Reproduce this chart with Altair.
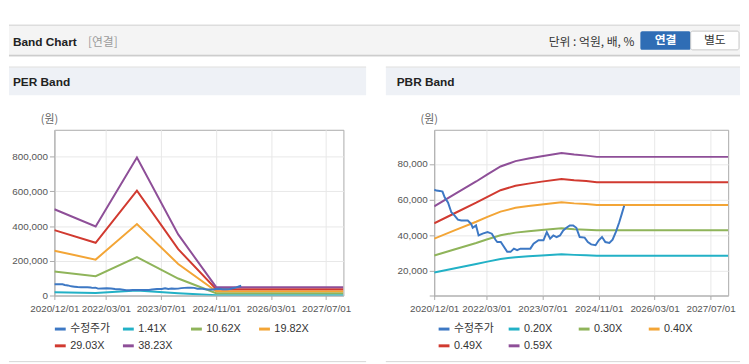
import altair as alt
import pandas as pd

# ---------------- data ----------------
per_series = ["수정주가", "1.41X", "10.62X", "19.82X", "29.03X", "38.23X"]
pbr_series = ["수정주가", "0.20X", "0.30X", "0.40X", "0.49X", "0.59X"]
series_colors = ["#3d78c4", "#22b1c6", "#8fb45a", "#f3a536", "#d13a30", "#8e4f98"]

price_dates = ["2020-12-01", "2020-12-20", "2021-01-19", "2021-02-11", "2021-03-03", "2021-03-31",
               "2021-04-29", "2021-05-28", "2021-06-25", "2021-07-24", "2021-09-19", "2021-10-18",
               "2021-11-01", "2021-11-30", "2021-12-22", "2022-01-26", "2022-03-10", "2022-04-16",
               "2022-05-21", "2022-06-03", "2022-07-03", "2022-08-28", "2022-09-26", "2022-10-25",
               "2022-11-22", "2022-12-21", "2023-02-02", "2023-03-17", "2023-04-14", "2023-05-27",
               "2023-07-09", "2023-08-07", "2023-09-05", "2023-10-03", "2023-10-31", "2023-11-30",
               "2023-12-28", "2024-01-25", "2024-02-23", "2024-03-23", "2024-04-20", "2024-05-19",
               "2024-07-01", "2024-07-29", "2024-08-27", "2024-10-04", "2024-11-01", "2024-11-29",
               "2024-12-28", "2025-02-01", "2025-03-01", "2025-03-29", "2025-04-28", "2025-05-20",
               "2025-06-10"]
price_values = [65500, 65000, 64800, 64400, 61100, 58300,
                52800, 50900, 48700, 48200, 48200, 46300,
                44100, 45400, 39800, 40800, 41700, 40800,
                37100, 36100, 36100, 30600, 30600, 32400,
                31500, 32400, 32400, 32400, 35200, 37100,
                37100, 41700, 38000, 39800, 38900, 39800,
                42600, 44100, 45400, 45400, 44100, 38900,
                38600, 36100, 34800, 34300, 37100, 38900,
                36100, 35600, 37400, 41700, 47200, 51900,
                56500]

per_dates = ["2020-12-01", "2021-12-01", "2022-12-01", "2023-12-01", "2024-11-01", "2027-12-01"]
per_1_41 = [18300, 14700, 29300, 13000, 1800, 1800]
per_10_62 = [138000, 111000, 221000, 98000, 13300, 13300]
per_19_82 = [258000, 207000, 412000, 182000, 24900, 24900]
per_29_03 = [377000, 304000, 604000, 267000, 36400, 36400]
per_38_23 = [497000, 398000, 795000, 352000, 48000, 48000]

pbr_dates = ["2020-12-01", "2021-06-01", "2021-12-01", "2022-03-09", "2022-07-01", "2022-11-08",
             "2023-03-01", "2023-06-24", "2023-12-13", "2024-04-01", "2024-07-15", "2024-10-15",
             "2027-12-01"]
pbr_0_20 = [19000, 21400, 23800, 25100, 26600, 27600, 28100, 28600, 29200, 28900, 28700, 28400, 28400]
pbr_0_30 = [28500, 32100, 35600, 37700, 39900, 41400, 42200, 42900, 43800, 43300, 43000, 42700, 42700]
pbr_0_40 = [38000, 42800, 47500, 50200, 53200, 55300, 56300, 57200, 58400, 57800, 57400, 56900, 56900]
pbr_0_49 = [46600, 52400, 58200, 61500, 65200, 67700, 68900, 70000, 71500, 70800, 70300, 69700, 69700]
pbr_0_59 = [56100, 63100, 70100, 74100, 78500, 81500, 83000, 84300, 86100, 85200, 84600, 83900, 83900]

x_tick_dates = [(2020, 12), (2022, 3), (2023, 7), (2024, 11), (2026, 3), (2027, 7)]
per_y_ticks = [0, 200000, 400000, 600000, 800000]
pbr_y_ticks = [6100, 20000, 40000, 60000, 80000]
per_y_domain = [0, 955000]
pbr_y_domain = [6100, 99100]

assert len(price_dates) == len(price_values)

# ---------------- tables ----------------
def long_table(dates_list, series_names, series_values):
    frames = []
    for name, vals in zip(series_names, series_values):
        frames.append(pd.DataFrame({"date": pd.to_datetime(dates_list), "value": vals, "series": name}))
    return frames

per_frames = long_table(per_dates, per_series[1:], [per_1_41, per_10_62, per_19_82, per_29_03, per_38_23])
per_frames += long_table(price_dates, [per_series[0]], [price_values])
per_df = pd.concat(per_frames, ignore_index=True)

pbr_frames = long_table(pbr_dates, pbr_series[1:], [pbr_0_20, pbr_0_30, pbr_0_40, pbr_0_49, pbr_0_59])
pbr_frames += long_table(price_dates, [pbr_series[0]], [price_values])
pbr_df = pd.concat(pbr_frames, ignore_index=True)

AXIS_FONT = "'Liberation Sans', Arial, sans-serif"
FONT = "'Liberation Sans', Arial, 'Noto Sans CJK KR', sans-serif"
KFONT = "'Noto Sans CJK KR', 'Liberation Sans', sans-serif"

x_values = [alt.DateTime(year=y, month=m, date=1) for y, m in x_tick_dates]
x_domain = [alt.DateTime(year=2020, month=12, date=1), alt.DateTime(year=2027, month=12, date=1)]

one = pd.DataFrame({"k": [0]})


def rect(x, x2, y, y2, fill, stroke=None, opacity=1.0, radius=0):
    kw = dict(fill=fill, opacity=opacity, cornerRadius=radius)
    if stroke:
        kw.update(stroke=stroke, strokeWidth=1)
    return alt.Chart(one).mark_rect(**kw).encode(
        x=alt.value(x), x2=alt.value(x2), y=alt.value(y), y2=alt.value(y2))


def hline(x, x2, y, color, w=1):
    return alt.Chart(one).mark_rule(color=color, strokeWidth=w).encode(
        x=alt.value(x), x2=alt.value(x2), y=alt.value(y))


def label(x, y, txt, size=12, color="#222", bold=False, align="left", font=FONT):
    return alt.Chart(one).mark_text(
        text=txt, fontSize=size, color=color, font=font, align=align, baseline="middle",
        fontWeight="bold" if bold else "normal").encode(x=alt.value(x), y=alt.value(y))


def band_panel(df, names, width, ydomain, yticks, legend_x, col_pad):
    return alt.Chart(df).mark_line(strokeWidth=2, clip=True).encode(
        x=alt.X("date:T",
                scale=alt.Scale(domain=x_domain, nice=False),
                axis=alt.Axis(values=x_values, format="%Y/%m/%d", title=None, labelFont=AXIS_FONT,
                              labelFontSize=10, labelColor="#555", tickColor="#aaa", tickSize=4,
                              domainColor="#aaa", gridColor="#e8e8e8", labelPadding=4,
                              labelOverlap=False, labelFlush=False)),
        y=alt.Y("value:Q",
                scale=alt.Scale(domain=ydomain, nice=False, zero=False),
                axis=alt.Axis(values=yticks, format=",d", title=None, labelFont=AXIS_FONT,
                              labelExpr="datum.value > 0 && datum.value < 10000 ? '' : datum.label",
                              labelFontSize=10, labelColor="#555", tickColor="#aaa", tickSize=5,
                              domainColor="#aaa", gridColor="#e8e8e8", labelPadding=2)),
        color=alt.Color("series:N",
                        scale=alt.Scale(domain=names, range=series_colors),
                        legend=alt.Legend(orient="none", legendX=legend_x, legendY=195,
                                          direction="horizontal", columns=4, title=None,
                                          symbolType="stroke", symbolStrokeWidth=3, symbolSize=121,
                                          labelFont=FONT, labelFontSize=11, labelColor="#333",
                                          columnPadding=col_pad, rowPadding=4, gridAlign="all",
                                          labelOffset=3, padding=0, labelLimit=200)),
    ).properties(width=width, height=168)


# left panel (plot origin at page (54,128))
left_deco = [
    rect(-46, 695, -120, 236, "white", opacity=0.0),  # page frame
    hline(-46, 695, -106, "#c4c4c4"),
    rect(-46, 695, -105.5, -76, "#f4f4f4"),
    hline(-46, 695, -75.5, "#b9b9b9"),
    hline(-46, 695, -74.5, "#e2e2e2"),
    label(-42, -89, "Band Chart", size=12, bold=True),
    label(34, -89, "[연결]", size=12, color="#9a9a9a", font=KFONT),
    label(588, -89, "단위 : 억원, 배, %", size=12, color="#333", align="right", font=KFONT),
    rect(594, 645, -100, -81, "#2f6db5", radius=2),
    label(619.5, -90.5, "연결", size=12, color="white", bold=True, align="center", font=KFONT),
    rect(645, 694, -100, -81, "white", stroke="#c8c8c8", radius=2),
    label(669.5, -90.5, "별도", size=12, color="#333", align="center", font=KFONT),
    hline(-46, 316, -63.5, "#d5d5d5"),
    rect(-46, 316, -63, -35, "#eef1f6"),
    label(-42, -48, "PER Band", size=12, bold=True),
    label(-5, -10, "(원)", size=11, color="#666", align="center", font=KFONT),
    hline(-46, 316, 235, "#d6d6d6"),
]
left = alt.layer(*left_deco, band_panel(per_df, per_series, 293, per_y_domain, per_y_ticks, -1, 6))

# right panel (plot origin at page (439,128))
right_deco = [
    hline(-49, 310, -63.5, "#d5d5d5"),
    rect(-49, 310, -63, -35, "#eef1f6"),
    label(-38, -48, "PBR Band", size=12, bold=True),
    label(-5, -10, "(원)", size=11, color="#666", align="center", font=KFONT),
    hline(-49, 310, 235, "#d6d6d6"),
]
right = alt.layer(*right_deco, band_panel(pbr_df, pbr_series, 298, pbr_y_domain, pbr_y_ticks, 3, 8))

chart = alt.hconcat(left, right, spacing=92, bounds="flush").resolve_scale(
    x="independent", y="independent", color="independent"
).properties(padding=0).configure_view(stroke="#aaaaaa", strokeWidth=1)

chart.save("out.html", embed_options={"renderer": "svg", "actions": False})
